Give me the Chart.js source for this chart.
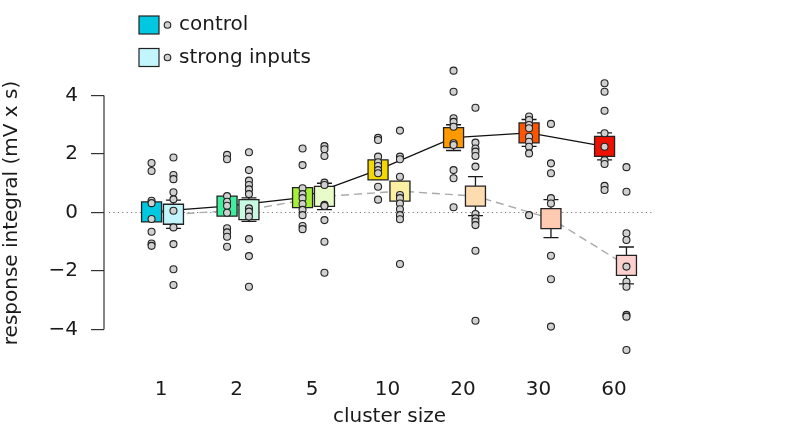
<!DOCTYPE html>
<html><head><meta charset="utf-8">
<style>html,body{margin:0;padding:0;background:#fff;}#wrap{width:793px;height:432px;position:relative;}</style>
<script src="https://cdn.jsdelivr.net/npm/chart.js@4.4.1/dist/chart.umd.min.js"></script>
</head><body><div id="wrap"><canvas id="c" width="793" height="432"></canvas></div>
<script>
const categories = ['1','2','5','10','20','30','60'];
const yTickValues = [-4,-2,0,2,4];
const seriesNames = ['control','strong inputs'];
const xTitle = 'cluster size';
const yTitle = 'response integral (mV x s)';

const controlMean = [0.02, 0.215, 0.51, 1.46, 2.56, 2.72, 2.26];
const controlErr  = [0.30, 0.30, 0.30, 0.30, 0.44, 0.46, 0.46];
const strongMean  = [-0.06, 0.10, 0.55, 0.73, 0.56, -0.21, -1.81];
const strongErr   = [0.48, 0.40, 0.45, 0.30, 0.67, 0.65, 0.63];

const controlPoints = [
  [1.69, 1.42, 0.40, 0.32, -0.22, -0.66, -1.06, -1.14],
  [1.97, 1.82, 0.56, 0.37, 0.23, -0.01, -0.54, -0.68, -0.83, -1.17],
  [2.19, 1.62, 0.83, 0.63, 0.49, 0.29, 0.09, -0.09, -0.46, -0.57],
  [2.55, 2.48, 1.91, 1.72, 1.59, 1.45, 1.34, 0.88, 0.44],
  [4.85, 4.13, 3.22, 3.10, 2.93, 2.37, 2.31, 1.45, 1.17, 0.18],
  [5.61, 3.28, 3.16, 2.99, 2.88, 2.59, 2.42, 2.25, 2.02, -0.09],
  [4.42, 4.13, 3.48, 2.71, 2.25, 1.79, 1.66, 0.91, 0.77]
];
const strongPoints = [
  [1.88, 1.28, 1.14, 0.69, 0.45, 0.06, -0.51, -1.08, -1.94, -2.48],
  [2.06, 1.45, 1.09, 0.94, 0.79, 0.63, 0.14, 0.03, -0.14, -0.91, -1.49, -2.54],
  [2.27, 2.16, 1.93, 1.02, 0.94, 0.26, 0.22, -0.26, -1.00, -2.06],
  [2.80, 1.91, 1.82, 1.22, 0.60, 0.49, 0.31, 0.11, -0.09, -0.23, -1.76],
  [3.58, 2.39, 2.19, 2.08, 1.93, 1.57, -0.05, -0.20, -0.31, -0.43, -1.31, -3.70],
  [3.03, 1.68, 1.34, 0.49, 0.31, -1.48, -2.28, -3.90],
  [1.55, 0.71, -0.71, -0.94, -1.85, -2.37, -2.54, -3.50, -3.56, -4.70]
];

const controlColors = ['#00c8e0', '#40eea0', '#a6f03a', '#f5d800', '#ff9900', '#ff5500', '#ee1100'];
const strongColors  = ['#c2f5fc', '#c8fae2', '#e7fcc8', '#fbf0a2', '#ffdcb0', '#ffc9b2', '#fdd0d0'];

// --- layout constants (not data) ---
const OFF_C = -0.125, OFF_S = 0.165;
const FONT = 'DejaVu Sans';

function pointsData(groups, off) {
  const out = [];
  groups.forEach((vals, i) => vals.forEach(v => out.push({x: i + 1 + off, y: v})));
  return out;
}
function meanData(means, off) { return means.map((m, i) => ({x: i + 1 + off, y: m})); }

Chart.defaults.font.family = FONT;
Chart.defaults.font.size = 20;
Chart.defaults.color = '#1a1a1a';

const ptStyle = {showLine: false, pointRadius: 3.5, pointHoverRadius: 3.5, pointBackgroundColor: '#d0d0d0',
  pointBorderColor: '#222', pointBorderWidth: 1.1, clip: false};
const sqStyle = {showLine: false, pointStyle: 'rect', pointRadius: 14.14, pointHoverRadius: 14.14,
  pointBorderColor: '#222', pointBorderWidth: 1.3, clip: false};

function drawErr(ctx, xs, ys, means, errs, off) {
  means.forEach((m, i) => {
    const px = xs.getPixelForValue(i + 1 + off);
    const t = ys.getPixelForValue(m + errs[i]), b = ys.getPixelForValue(m - errs[i]);
    ctx.beginPath();
    ctx.moveTo(px, t); ctx.lineTo(px, b);
    ctx.moveTo(px - 7.5, t); ctx.lineTo(px + 7.5, t);
    ctx.moveTo(px - 7.5, b); ctx.lineTo(px + 7.5, b);
    ctx.stroke();
  });
}

const custom = {
  id: 'custom',
  beforeDatasetsDraw(chart) {
    const {ctx, chartArea, scales: {x, y}} = chart;
    const y0 = y.getPixelForValue(0);
    ctx.save();
    ctx.strokeStyle = '#777'; ctx.lineWidth = 1.2; ctx.setLineDash([1.2, 3.2]);
    ctx.beginPath(); ctx.moveTo(chartArea.left + 5, y0); ctx.lineTo(x.getPixelForValue(7.5), y0); ctx.stroke();
    ctx.restore();
  },
  beforeDatasetDraw(chart, args) {
    if (args.index !== 3) return;
    const {ctx, scales: {x, y}} = chart;
    ctx.save(); ctx.strokeStyle = '#1a1a1a'; ctx.lineWidth = 1.3;
    drawErr(ctx, x, y, strongMean, strongErr, OFF_S);
    drawErr(ctx, x, y, controlMean, controlErr, OFF_C);
    ctx.restore();
  },
  afterDraw(chart) {
    const {ctx, chartArea, scales: {y}} = chart;
    ctx.save();
    // y axis line from lowest to highest tick
    ctx.strokeStyle = '#333'; ctx.lineWidth = 1.2;
    ctx.beginPath();
    ctx.moveTo(chartArea.left, y.getPixelForValue(yTickValues[0]));
    ctx.lineTo(chartArea.left, y.getPixelForValue(yTickValues[yTickValues.length - 1]));
    ctx.stroke();
    // legend
    const rows = [[25, controlColors[0], seriesNames[0]], [57.5, strongColors[0], seriesNames[1]]];
    ctx.font = '20px ' + FONT; ctx.textBaseline = 'middle'; ctx.textAlign = 'left';
    rows.forEach(([ry, fill, label]) => {
      ctx.fillStyle = fill; ctx.fillRect(139, ry - 9, 20, 18);
      ctx.strokeStyle = '#222'; ctx.lineWidth = 1.2; ctx.strokeRect(139, ry - 9, 20, 18);
      ctx.beginPath(); ctx.arc(167.5, ry, 3.3, 0, Math.PI * 2);
      ctx.fillStyle = '#d0d0d0'; ctx.fill(); ctx.lineWidth = 1.1; ctx.stroke();
      ctx.fillStyle = '#1a1a1a'; ctx.fillText(label, 179, ry);
    });
    ctx.restore();
  }
};

new Chart(document.getElementById('c'), {
  type: 'scatter',
  data: {
    datasets: [
      Object.assign({label: seriesNames[0] + ' points', data: pointsData(controlPoints, OFF_C)}, ptStyle),
      Object.assign({label: seriesNames[1] + ' points', data: pointsData(strongPoints, OFF_S)}, ptStyle),
      Object.assign({label: seriesNames[0], data: meanData(controlMean, OFF_C), pointBackgroundColor: controlColors}, sqStyle),
      Object.assign({label: seriesNames[1], data: meanData(strongMean, OFF_S), pointBackgroundColor: strongColors}, sqStyle),
      {type: 'line', label: seriesNames[0] + ' line', data: meanData(controlMean, OFF_C), showLine: true,
        borderColor: '#111', borderWidth: 1.3, pointRadius: 0, fill: false, clip: false},
      {type: 'line', label: seriesNames[1] + ' line', data: meanData(strongMean, OFF_S), showLine: true,
        borderColor: '#aaa', borderWidth: 1.4, borderDash: [8, 5], pointRadius: 0, fill: false, clip: false}
    ]
  },
  options: {
    responsive: false, animation: false, devicePixelRatio: 1,
    layout: {padding: {left: 0, right: 118, top: 54, bottom: 0}},
    plugins: {legend: {display: false}, tooltip: {enabled: false}},
    scales: {
      x: {
        type: 'linear', min: 1 + (104 - 161) / 75.5, max: 1 + (675 - 161) / 75.5,
        afterBuildTicks: s => { s.ticks = categories.map((c, i) => ({value: i + 1})); },
        afterFit: s => { s.height = 60; },
        ticks: {autoSkip: false, maxRotation: 0, padding: 6, color: '#1a1a1a',
          callback: v => categories[Math.round(v) - 1]},
        grid: {display: false, drawTicks: false},
        border: {display: false},
        title: {display: true, text: xTitle, color: '#1a1a1a', padding: {top: 0, bottom: 3}}
      },
      y: {
        type: 'linear', min: -5.453, max: 5.419,
        afterBuildTicks: s => { s.ticks = yTickValues.map(v => ({value: v})); },
        afterFit: s => { s.width = 104; },
        ticks: {padding: 13, color: '#1a1a1a',
          callback: v => (v < 0 ? '\u2212' + Math.abs(v) : String(v))},
        grid: {display: true, drawOnChartArea: false, drawTicks: true, tickLength: 13, color: '#333', lineWidth: 1.2},
        border: {display: false},
        title: {display: true, text: yTitle, color: '#1a1a1a', padding: {top: 0, bottom: 0}}
      }
    }
  },
  plugins: [custom]
});
</script></body></html>
